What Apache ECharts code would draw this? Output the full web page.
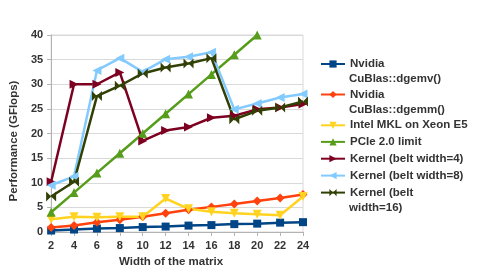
<!DOCTYPE html>
<html>
<head>
<meta charset="utf-8">
<script src="https://cdn.jsdelivr.net/npm/echarts@6/dist/echarts.min.js"></script>
<style>html,body{margin:0;padding:0;background:#fff}#c{width:478px;height:273px}</style>
</head>
<body>
<div id="c"></div>
<script>
const categories = ['2','4','6','8','10','12','14','16','18','20','22','24'];
const seriesNames = ['Nvidia\nCuBlas::dgemv()','Nvidia\nCuBlas::dgemm()','Intel MKL on Xeon E5','PCIe 2.0 limit','Kernel (belt width=4)','Kernel (belt width=8)','Kernel (belt\nwidth=16)'];
const dgemv = [0.3,0.5,0.7,0.8,1.0,1.1,1.3,1.4,1.6,1.7,1.9,2.0];
const dgemm = [0.9,1.3,2.0,2.5,3.1,3.8,4.5,5.1,5.7,6.3,6.9,7.6];
const mkl = [2.6,3.1,3.0,3.1,3.1,6.8,4.7,4.1,3.8,3.6,3.4,7.2];
const pcie = [4,8,12,16,20,24,28,32,36,40,null,null];
const belt4 = [10.2,30.0,30.0,32.4,18.5,20.6,21.3,23.2,23.6,24.9,25.3,26.0];
const belt8 = [9.5,11.3,32.8,35.3,32.5,35.1,35.6,36.5,24.9,26.1,27.3,28.0];
const belt16 = [7.2,10.2,27.6,29.7,32.2,33.4,34.2,35.3,22.9,24.6,25.3,26.5];
const yTicks = {min:0, max:40, interval:5};

const colors = ['#004586','#ff420e','#ffd320','#579d1c','#7e0021','#83caff','#314004'];
const symbols = ['rect','diamond','path://M0,0L10,0L5,10Z','triangle','path://M0,0L10,5L0,10Z','path://M10,0L0,5L10,10Z','path://M0,0L5,5L0,10ZM10,0L5,5L10,10Z'];
const sizes = [8,9,9,9,9,9,10];
const values = [dgemv,dgemm,mkl,pcie,belt4,belt8,belt16];

const font = 'Liberation Sans, Arial, sans-serif';
const legendY = [64,94.5,125.3,141.9,158.7,175.6,192.6];
const lineH = 15;
const textStyle = {fontFamily:font,fontWeight:'bold',fontSize:11.5,color:'#333',lineHeight:lineH};

const legends = seriesNames.map((n,i)=>({
  orient:'vertical', left:320, top:legendY[i]-lineH/2, padding:0,
  itemWidth:24, itemHeight:9,
  textStyle:textStyle,
  formatter: nm => nm.split('\n')[0],
  data:[n]
}));
const extraTexts = [];
seriesNames.forEach((n,i)=>{
  const parts = n.split('\n');
  for (let k=1;k<parts.length;k++){
    extraTexts.push({type:'text', left:349, top:legendY[i]-lineH/2+k*lineH,
      style:{text:parts[k], fill:'#333', font:'bold 11.5px '+font, lineHeight:lineH, textVerticalAlign:'top'}});
  }
});

const chart = echarts.init(document.getElementById('c'), null, {renderer:'canvas'});
chart.setOption({
  animation:false,
  backgroundColor:'#fff',
  color: colors,
  grid:{left:43,right:175,top:35,bottom:41,show:true,borderColor:'#d9d9d9',borderWidth:1,containLabel:false},
  legend: legends,
  graphic: extraTexts,
  xAxis:{
    type:'category', data:categories, boundaryGap:false,
    axisLine:{lineStyle:{color:'#b3b3b3',width:1}},
    axisTick:{show:true,length:4,lineStyle:{color:'#b3b3b3'}},
    axisLabel:{fontFamily:font,fontWeight:'bold',fontSize:11,color:'#333',margin:8},
    splitLine:{show:false},
    name:'Width of the matrix', nameLocation:'middle', nameGap:23,
    nameTextStyle:{fontFamily:font,fontWeight:'bold',fontSize:11.5,color:'#333',padding:[0,12,0,0]}
  },
  yAxis:{
    type:'value', min:yTicks.min, max:yTicks.max, interval:yTicks.interval,
    axisLine:{show:true,lineStyle:{color:'#b3b3b3',width:1}},
    axisTick:{show:true,length:4,lineStyle:{color:'#b3b3b3'}},
    axisLabel:{fontFamily:font,fontWeight:'bold',fontSize:11,color:'#333',margin:8},
    splitLine:{show:true,lineStyle:{color:'#d9d9d9',width:1}},
    name:'Performance (GFlops)', nameLocation:'middle', nameGap:25, nameRotate:90,
    nameTextStyle:{fontFamily:font,fontWeight:'bold',fontSize:11.5,color:'#333',padding:[0,15,0,0]}
  },
  series: seriesNames.map((n,i)=>({
    name:n, type:'line', data:values[i],
    symbol:symbols[i], symbolSize:sizes[i], showAllSymbol:true,
    lineStyle:{width:2.5,color:colors[i]},
    itemStyle:{color:colors[i]},
    connectNulls:false
  }))
});
</script>
</body>
</html>
